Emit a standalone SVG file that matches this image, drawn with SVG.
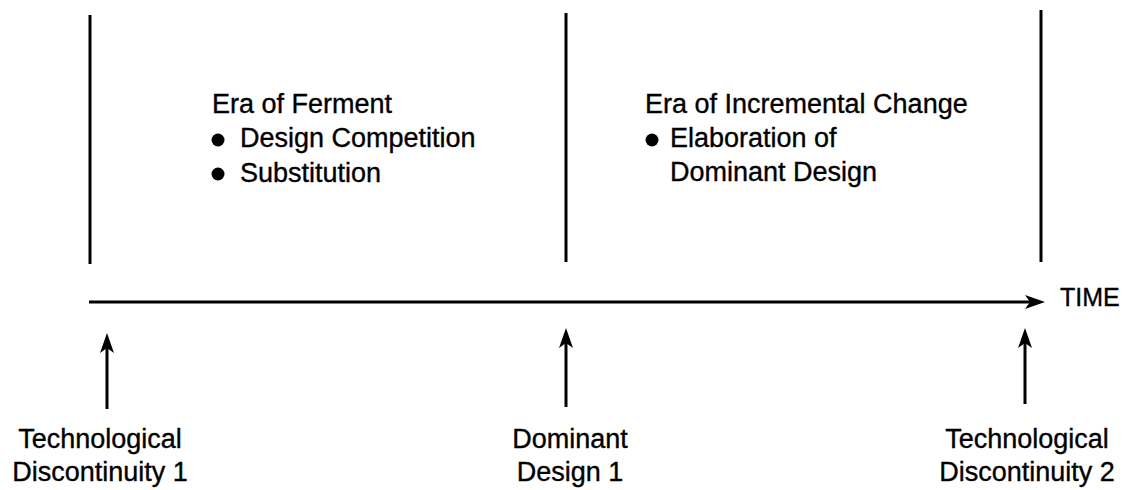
<svg xmlns="http://www.w3.org/2000/svg" width="1125" height="490" viewBox="0 0 1125 490">
  <style>
    .t { font-family: "Liberation Sans", Arial, Helvetica, sans-serif; font-size: 27px; fill: #000; stroke: #000; stroke-width: 0.35; }
    .c { text-anchor: middle; }
    .ln { stroke: #000; stroke-width: 3; fill: none; }
    .dot { fill: #000; }
  </style>
  <defs>
    <marker id="ah" markerUnits="userSpaceOnUse" viewBox="-10 -9 24 18" markerWidth="24" markerHeight="18" refX="0" refY="0" orient="auto">
      <path d="M12,0 L-8,-7 L-3,0 L-8,7 Z" fill="#000"/>
    </marker>
  </defs>
  <rect width="1125" height="490" fill="#fff"/>

  <g id="boundaries">
    <line class="ln" x1="90" y1="15" x2="90" y2="264"/>
    <line class="ln" x1="566" y1="13" x2="566" y2="262"/>
    <line class="ln" x1="1041" y1="10" x2="1041" y2="262"/>
  </g>

  <g id="connectors">
    <line class="ln" x1="89" y1="302" x2="1033" y2="302" marker-end="url(#ah)"/>
    <line class="ln" x1="107" y1="409" x2="107" y2="345" marker-end="url(#ah)"/>
    <line class="ln" x1="566" y1="407" x2="566" y2="340" marker-end="url(#ah)"/>
    <line class="ln" x1="1025" y1="404" x2="1025" y2="340" marker-end="url(#ah)"/>
  </g>

  <g id="era-ferment">
    <text class="t" x="212" y="113">Era of Ferment</text>
    <circle class="dot" cx="218" cy="140" r="6.5"/>
    <text class="t" x="240" y="147">Design Competition</text>
    <circle class="dot" cx="218" cy="174" r="6.5"/>
    <text class="t" x="240" y="182">Substitution</text>
  </g>

  <g id="era-incremental">
    <text class="t" x="645" y="113">Era of Incremental Change</text>
    <circle class="dot" cx="652" cy="140" r="6.5"/>
    <text class="t" x="670" y="147">Elaboration of</text>
    <text class="t" x="670" y="181">Dominant Design</text>
  </g>

  <g id="time-label">
    <text class="t" x="1060" y="306" style="font-size:25px">TIME</text>
  </g>

  <g id="tech-disc-1">
    <text class="t c" x="100" y="448">Technological</text>
    <text class="t c" x="100" y="481">Discontinuity 1</text>
  </g>

  <g id="dominant-design-1">
    <text class="t c" x="570" y="448">Dominant</text>
    <text class="t c" x="570" y="481">Design 1</text>
  </g>

  <g id="tech-disc-2">
    <text class="t c" x="1027" y="448">Technological</text>
    <text class="t c" x="1027" y="481">Discontinuity 2</text>
  </g>
</svg>
